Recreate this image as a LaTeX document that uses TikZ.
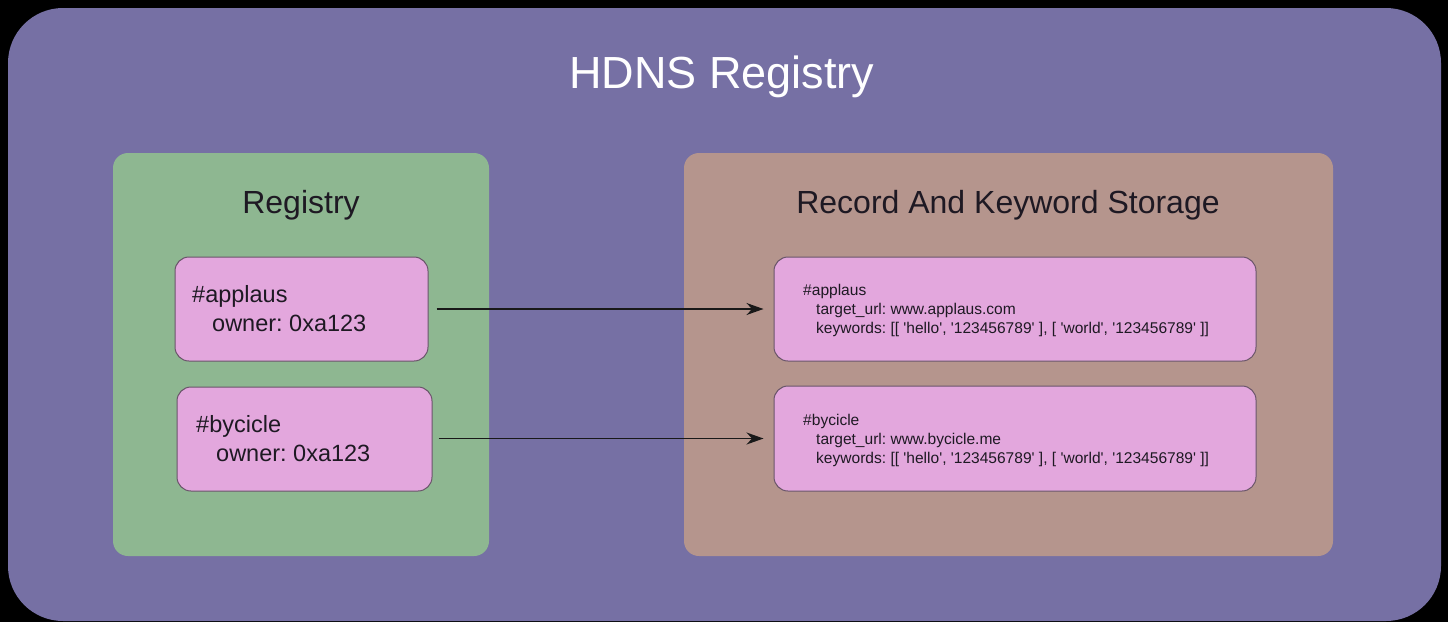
\documentclass[tikz,border=0pt]{standalone}
\usepackage{fontspec}
\setmainfont{Liberation Sans}[Ligatures=TeXOff]
\usetikzlibrary{arrows.meta}
\frenchspacing
\definecolor{bgpurple}{RGB}{118,112,164}
\definecolor{regGreen}{RGB}{142,183,145}
\definecolor{stoBrown}{RGB}{181,149,141}
\definecolor{recPink}{RGB}{227,167,221}
\definecolor{recEdge}{RGB}{105,85,105}
\definecolor{txtDark}{RGB}{30,25,35}
\tikzset{
  recbox/.style={draw=recEdge, line width=1pt, fill=recPink, rounded corners=14pt, inner sep=0pt},
  bigtxt/.style={anchor=base west, inner sep=0pt, text=txtDark, font=\fontsize{23.5}{28}\selectfont},
  smalltxt/.style={anchor=base west, inner sep=0pt, text=txtDark, font=\fontsize{15.55}{18}\selectfont},
  headtxt/.style={anchor=base, inner sep=0pt, text=txtDark, font=\fontsize{32}{38}\selectfont},
  link/.style={draw=black!90, line width=1.3pt, -{Stealth[length=17pt,width=12pt]}}
}
\begin{document}
\begin{tikzpicture}[x=1pt,y=-1pt]
\useasboundingbox (0,0) rectangle (1448,622);
\fill[black] (0,0) rectangle (1448,622);
% outer panel
\fill[bgpurple, rounded corners=55pt] (8,8) rectangle (1441,621);
\node[anchor=base, inner sep=0pt, text=white, font=\fontsize{45}{54}\selectfont] (title) at (722,88) {HDNS Registry};
% panels
\fill[regGreen, rounded corners=15pt] (113,153) rectangle (489,556);
\fill[stoBrown, rounded corners=15pt] (684,153) rectangle (1333,556);
\node[headtxt] (reghead) at (301,213) {Registry};
\node[headtxt] (stohead) at (1008,213) {Record And Keyword Storage};
% left boxes
\node[recbox, minimum width=253pt, minimum height=104pt] (la) at (301.5,309) {};
\node[recbox, minimum width=255pt, minimum height=104pt] (lb) at (304.5,439) {};
% right boxes
\node[recbox, minimum width=482pt, minimum height=104pt] (ra) at (1015,309) {};
\node[recbox, minimum width=482pt, minimum height=105pt] (rb) at (1015,438.5) {};
% left texts
\node[bigtxt] (la1) at (192,302) {\#applaus};
\node[bigtxt] (la2) at (212,331) {owner: 0xa123};
\node[bigtxt] (lb1) at (196,432) {\#bycicle};
\node[bigtxt] (lb2) at (216,461) {owner: 0xa123};
% right texts
\node[smalltxt] (ra1) at (803,295) {\#applaus};
\node[smalltxt] (ra2) at (816,314) {target\_url: www.applaus.com};
\node[smalltxt] (ra3) at (816,333) {keywords: [[ 'hello', '123456789' ], [ 'world', '123456789' ]]};
\node[smalltxt] (rb1) at (803,425) {\#bycicle};
\node[smalltxt] (rb2) at (816,444) {target\_url: www.bycicle.me};
\node[smalltxt] (rb3) at (816,463) {keywords: [[ 'hello', '123456789' ], [ 'world', '123456789' ]]};
% arrows
\draw[link, shorten <=8pt, shorten >=10pt] (la.east) -- (ra.west);
\draw[link, shorten <=6pt, shorten >=10pt] (lb.east |- rb.west) -- (rb.west);
\end{tikzpicture}
\end{document}
